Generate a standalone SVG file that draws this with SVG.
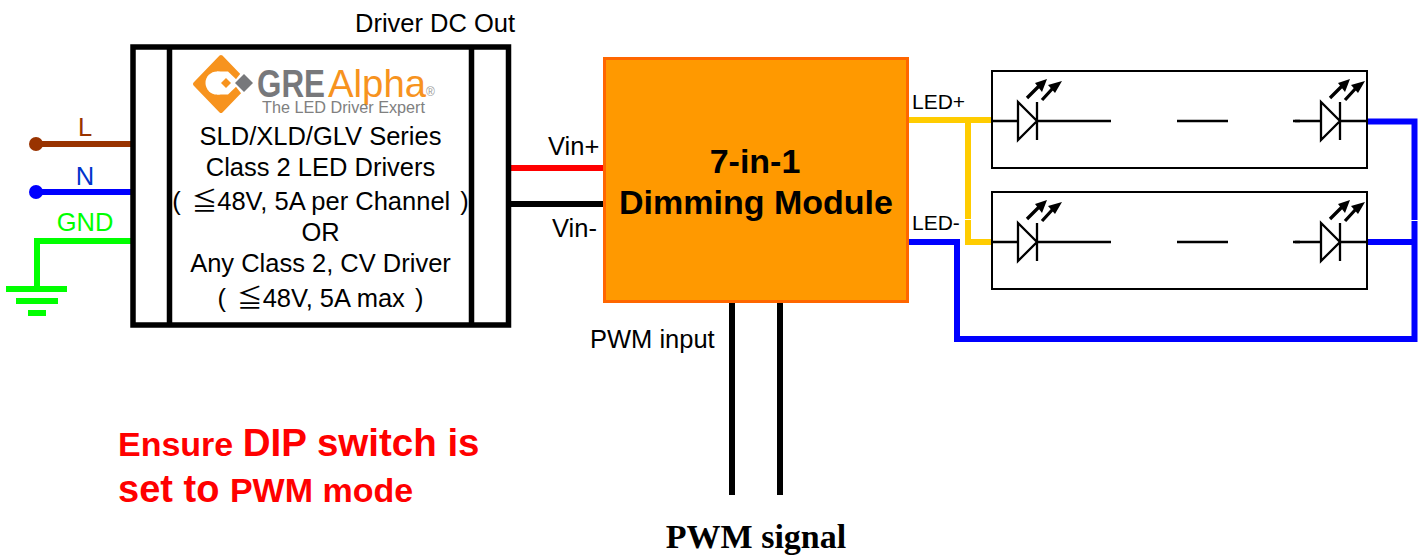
<svg xmlns="http://www.w3.org/2000/svg" width="1424" height="556" viewBox="0 0 1424 556">
<style>
text{font-family:"Liberation Sans",Arial,"Noto Sans CJK SC",sans-serif;fill:#000}
.t{font-size:25.5px;text-anchor:middle}
.l{font-size:25.5px}
.w{fill:none;stroke-width:6}
.k{fill:none;stroke:#000;stroke-width:2.3}
.h{font-weight:bold;fill:#f00}
.m{font-size:34px;font-weight:bold;text-anchor:middle}
</style>
<defs>
<g id="led">
<path class="k" d="M-28 0H-2M-2 -19V19L17 0ZM17 -19V19M17 0H45"/>
<path d="M7 -23L20 -36M22 -21L33 -33" stroke="#000" stroke-width="3.300" fill="none"/>
<path d="M27 -42L22 -29L15 -38ZM42 -40L35 -28L28 -36Z" fill="#000"/>
</g>
</defs>
<g id="connectors">
<circle cx="36" cy="144" r="7" fill="#993300"/>
<path class="w" stroke="#993300" d="M36 144H131"/>
<circle cx="36" cy="192" r="7" fill="#00f"/>
<path class="w" stroke="#00f" d="M36 192H131"/>
<path class="w" stroke="#0f0" d="M131 241H37V290"/>
<path class="w" stroke="#0f0" d="M6 289H67M16 301H58M28 313H46"/>
<path class="w" stroke="#f00" d="M510 168H604"/>
<path class="w" stroke="#000" d="M510 204H604"/>
<path class="w" stroke="#000" d="M732 302V495M780 302V495"/>
<path class="w" stroke="#fc0" d="M908 120H992M968 120V219M968 220V242H992"/>
<path class="w" stroke="#00f" d="M908 242H957V339H1414.500V221M1414.500 220V121.500H1368M1414 242H1368"/>
</g>
<g id="driver">
<rect x="133" y="47" width="375.500" height="278" fill="#fff" stroke="#000" stroke-width="5.500"/>
<path d="M169.500 47V325M471.500 47V325" stroke="#000" stroke-width="5.500"/>
<g id="logo">
<path d="M195 84L221 57L247 84L221 111Z" fill="#f7931e" stroke="#f7931e" stroke-width="4" stroke-linejoin="round"/>
<circle cx="217" cy="83" r="11.500" fill="#fff"/>
<path d="M217 71.500H228L240 83L228 94.500H217Z" fill="#fff"/>
<path d="M244 69L258 83L244 97L233 83Z" fill="#fff"/>
<path d="M226 78L231 83L226 88L221 83Z" fill="#f7931e"/>
<path d="M244 74L253 83L244 92L235 83Z" fill="#77787b"/>
<text x="257" y="97" font-size="38" font-weight="bold" style="fill:#77787b" textLength="68" lengthAdjust="spacingAndGlyphs">GRE</text>
<text x="328" y="97" font-size="39" style="fill:#f7931e" textLength="98" lengthAdjust="spacingAndGlyphs">Alpha</text>
<text x="426" y="96" font-size="12" style="fill:#999">®</text>
<text x="262" y="113" font-size="16" style="fill:#808080" textLength="163" lengthAdjust="spacingAndGlyphs">The LED Driver Expert</text>
</g>
<text class="t" x="320.500" y="145">SLD/XLD/GLV Series</text>
<text class="t" x="320.500" y="176">Class 2 LED Drivers</text>
<text class="t" x="320.500" y="210">( <tspan dx="4">≦</tspan>48V, 5A per Channel<tspan dx="3"> )</tspan></text>
<text class="t" x="320.500" y="241">OR</text>
<text class="t" x="320.500" y="272">Any Class 2, CV Driver</text>
<text class="t" x="320.500" y="307">( <tspan dx="4">≦</tspan>48V, 5A max<tspan dx="3"> )</tspan></text>
</g>
<g id="module">
<rect x="604.500" y="58.500" width="303" height="243" fill="#ff9900" stroke="#ff6600" stroke-width="3"/>
<text class="m" x="755" y="173">7-in-1</text>
<text class="m" x="756" y="214">Dimming Module</text>
</g>
<g id="led-string-1">
<rect x="992" y="71" width="375" height="97" fill="none" stroke="#000" stroke-width="2"/>
<use href="#led" x="1020" y="121"/>
<use href="#led" x="1323" y="121"/>
<path class="k" d="M1065 121H1111M1177 121H1228M1293 121H1300"/>
</g>
<g id="led-string-2">
<rect x="992" y="192" width="375" height="97" fill="none" stroke="#000" stroke-width="2"/>
<use href="#led" x="1020" y="242"/>
<use href="#led" x="1323" y="242"/>
<path class="k" d="M1065 242H1111M1177 242H1228M1293 242H1300"/>
</g>
<g id="labels">
<text class="t" x="85" y="136" style="fill:#993300">L</text>
<text class="t" x="85" y="185" style="fill:#0033cc">N</text>
<text class="t" x="85" y="231" style="fill:#0f0">GND</text>
<text class="l" x="355" y="32">Driver DC Out</text>
<text class="l" x="548" y="155">Vin+</text>
<text class="l" x="552" y="237">Vin-</text>
<text class="l" x="590" y="348">PWM input</text>
<text x="912" y="109" font-size="21">LED+</text>
<text x="912" y="230" font-size="21">LED-</text>
<text class="h" x="118" y="456"><tspan font-size="34">Ensure </tspan><tspan font-size="38.500">DIP switch is</tspan></text>
<text class="h" x="118" y="502"><tspan font-size="38">set to </tspan><tspan font-size="34">PWM mode</tspan></text>
<text x="756" y="548" font-size="34" font-weight="bold" text-anchor="middle" style="font-family:'Liberation Serif',serif">PWM signal</text>
</g>
</svg>
